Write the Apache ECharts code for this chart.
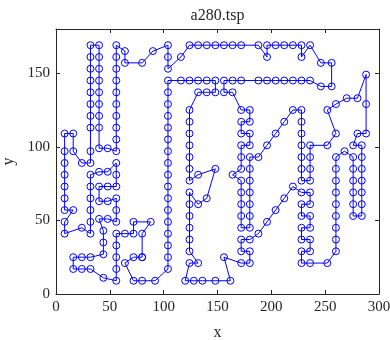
<!DOCTYPE html>
<html>
<head>
<meta charset="utf-8">
<script src="https://cdn.jsdelivr.net/npm/echarts@6/dist/echarts.min.js"></script>
<style>
  html, body { margin: 0; padding: 0; background: #fff; }
  #chart { width: 390px; height: 340px; }
</style>
</head>
<body>
<div id="chart"></div>
<script>
// city coordinates, index = city number - 1
let cityX = [
  288, 288, 270, 256, 256, 246, 236, 228, 228, 220,
  212, 204, 196, 188, 196, 188, 172, 164, 156, 148,
  140, 148, 164, 172, 156, 140, 132, 124, 116, 104,
  104, 104, 90, 80, 64, 64, 56, 56, 56, 56,
  56, 56, 56, 40, 40, 40, 40, 40, 40, 40,
  32, 32, 32, 32, 32, 32, 32, 32, 40, 56,
  56, 48, 40, 32, 32, 24, 16, 16, 8, 8,
  8, 8, 8, 8, 8, 16, 8, 8, 24, 32,
  32, 32, 32, 32, 32, 40, 40, 40, 40, 44,
  44, 44, 32, 24, 16, 16, 24, 32, 44, 56,
  56, 56, 56, 56, 64, 72, 72, 56, 48, 56,
  56, 48, 48, 56, 56, 48, 56, 56, 104, 104,
  104, 104, 104, 104, 104, 116, 124, 132, 132, 140,
  148, 156, 164, 172, 172, 172, 172, 172, 172, 180,
  180, 180, 180, 180, 172, 172, 172, 172, 164, 148,
  124, 124, 124, 124, 124, 124, 104, 104, 104, 104,
  104, 104, 104, 104, 104, 92, 80, 72, 64, 72,
  80, 80, 80, 88, 104, 124, 124, 132, 140, 132,
  124, 124, 124, 124, 124, 132, 124, 120, 128, 136,
  148, 162, 156, 172, 180, 180, 172, 172, 172, 180,
  180, 188, 196, 204, 212, 220, 228, 228, 236, 236,
  236, 228, 228, 236, 236, 228, 228, 236, 236, 228,
  228, 236, 252, 260, 260, 260, 260, 260, 260, 260,
  276, 276, 276, 276, 284, 284, 284, 284, 284, 284,
  284, 288, 280, 276, 276, 276, 268, 260, 252, 260,
  260, 236, 228, 228, 236, 236, 228, 228, 228, 228,
  220, 212, 204, 196, 188, 180, 180, 180, 180, 180,
  196, 204, 212, 220, 228, 236, 246, 252, 260, 280
]
let cityY = [
  149, 129, 133, 141, 157, 157, 169, 169, 161, 169,
  169, 169, 169, 169, 161, 145, 145, 145, 145, 145,
  145, 169, 169, 169, 169, 169, 169, 169, 161, 153,
  161, 169, 165, 157, 157, 165, 169, 161, 153, 145,
  137, 129, 121, 121, 129, 137, 145, 153, 161, 169,
  169, 161, 153, 145, 137, 129, 121, 113, 113, 113,
  105, 99, 99, 97, 89, 89, 97, 109, 109, 97,
  89, 81, 73, 65, 57, 57, 49, 41, 45, 41,
  49, 57, 65, 73, 81, 83, 73, 63, 51, 43,
  35, 27, 25, 25, 25, 17, 17, 17, 11, 9,
  17, 25, 33, 41, 41, 41, 49, 49, 51, 57,
  65, 63, 73, 73, 81, 83, 89, 97, 97, 105,
  113, 121, 129, 137, 145, 145, 145, 145, 137, 137,
  137, 137, 137, 125, 117, 109, 101, 93, 85, 85,
  77, 69, 61, 53, 53, 61, 69, 77, 81, 85,
  85, 93, 109, 125, 117, 101, 89, 81, 73, 65,
  49, 41, 33, 25, 17, 9, 9, 9, 21, 25,
  25, 25, 41, 49, 57, 69, 77, 81, 65, 61,
  61, 53, 45, 37, 29, 21, 21, 9, 9, 9,
  9, 9, 25, 21, 21, 29, 29, 37, 45, 45,
  37, 41, 49, 57, 65, 73, 69, 77, 77, 69,
  61, 61, 53, 53, 45, 45, 37, 37, 29, 29,
  21, 21, 21, 29, 37, 45, 53, 61, 69, 77,
  77, 69, 61, 53, 53, 61, 69, 77, 85, 93,
  101, 109, 109, 101, 93, 85, 97, 109, 101, 93,
  85, 85, 85, 93, 93, 101, 101, 109, 117, 125,
  125, 117, 109, 101, 93, 93, 101, 109, 117, 125,
  145, 145, 145, 145, 145, 145, 141, 125, 129, 133
]

// visiting order (city numbers)
let tour = [
  1, 2, 242, 243, 244, 241, 240, 239, 238, 237, 236, 235, 234, 233, 232, 231,
  246, 245, 247, 250, 251, 230, 229, 228, 227, 226, 225, 224, 223, 222, 221, 220,
  219, 218, 217, 216, 215, 214, 213, 212, 211, 210, 207, 206, 205, 204, 203, 202,
  201, 198, 197, 196, 195, 194, 193, 192, 191, 190, 189, 188, 187, 186, 185, 184,
  183, 182, 181, 176, 180, 179, 150, 178, 177, 151, 152, 156, 153, 155, 154, 129,
  130, 131, 20, 21, 128, 127, 126, 125, 124, 123, 122, 121, 120, 119, 157, 158,
  159, 160, 175, 161, 162, 163, 164, 165, 166, 167, 168, 169, 170, 172, 171, 173,
  174, 107, 106, 105, 104, 103, 102, 101, 100, 99, 98, 97, 96, 95, 94, 93,
  92, 91, 90, 89, 109, 108, 110, 111, 112, 88, 87, 113, 114, 115, 117, 116,
  86, 85, 84, 83, 82, 81, 80, 79, 78, 77, 76, 75, 74, 73, 72, 71,
  70, 69, 68, 67, 66, 65, 64, 58, 57, 56, 55, 54, 53, 52, 51, 50,
  49, 48, 47, 46, 45, 44, 59, 63, 62, 118, 61, 60, 43, 42, 41, 40,
  39, 38, 37, 36, 35, 34, 33, 32, 31, 30, 29, 28, 27, 26, 22, 25,
  23, 24, 14, 15, 13, 12, 11, 10, 8, 9, 7, 6, 5, 4, 277, 276,
  275, 274, 273, 272, 271, 16, 17, 18, 19, 132, 133, 134, 270, 269, 135, 136,
  268, 267, 137, 138, 139, 149, 148, 147, 146, 145, 199, 200, 144, 143, 142, 141,
  140, 266, 265, 264, 263, 262, 261, 260, 259, 258, 257, 254, 253, 208, 209, 252,
  255, 256, 249, 248, 278, 279, 3, 280
]

let axisColor = '#262626'
let serif = 'Liberation Serif'

// tour as closed polyline, the closing point gets no second marker
let pts = tour.map(function (c) { return [cityX[c - 1], cityY[c - 1]] })
pts.push({ value: pts[0], symbol: 'none' })

function boxAxis (pos, min, max, showLabel, name, gap, extra) {
  let ax = {
    type: 'value',
    position: pos,
    min: min,
    max: max,
    interval: 50,
    axisLine: { show: true, onZero: false, lineStyle: { color: axisColor, width: 1 } },
    axisTick: { show: true, inside: true, length: 4, lineStyle: { color: axisColor } },
    axisLabel: {
      show: showLabel,
      showMaxLabel: pos !== 'left',
      fontFamily: serif,
      fontSize: 15,
      color: axisColor,
      margin: 6
    },
    splitLine: { show: false },
    name: name,
    nameLocation: 'middle',
    nameGap: gap,
    nameTextStyle: { fontFamily: serif, fontSize: 16, color: axisColor }
  }
  return Object.assign(ax, extra || {})
}

let chart = echarts.init(document.getElementById('chart'))
chart.setOption({
  animation: false,
  grid: { left: 56, right: 11, top: 29, bottom: 46, containLabel: false, outerBoundsMode: 'none' },
  xAxis: [
    boxAxis('bottom', 0, 300, true, 'x', 31),
    boxAxis('top', 0, 300, false, 'a280.tsp', 5)
  ],
  yAxis: [
    boxAxis('left', 0, 180, true, 'y', 34, { nameRotate: 90 }),
    boxAxis('right', 0, 180, false, '', 0)
  ],
  series: [{
    type: 'line',
    data: pts,
    symbol: 'circle',
    symbolSize: 7,
    showSymbol: true,
    showAllSymbol: true,
    itemStyle: { color: 'rgba(0,0,0,0)', borderColor: '#0000ff', borderWidth: 1 },
    lineStyle: { color: '#0000ff', width: 1 },
    emphasis: { disabled: true }
  }]
})
</script>
</body>
</html>
